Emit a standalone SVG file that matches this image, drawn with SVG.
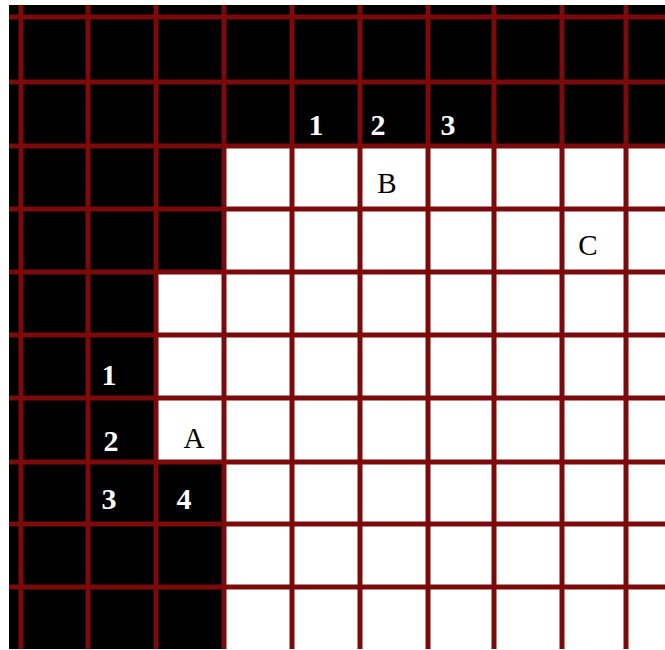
<svg xmlns="http://www.w3.org/2000/svg" width="665" height="650" viewBox="0 0 665 650">
<style>
.grid line{stroke:#7c0a0a;stroke-width:5}
.num{font-family:"Liberation Serif","Times New Roman",serif;font-weight:bold;font-size:30px;fill:#ffffff;text-anchor:middle}
.let{font-family:"Liberation Serif","Times New Roman",serif;font-size:29px;fill:#000000;text-anchor:middle}
</style>
<rect x="0" y="0" width="665" height="650" fill="#ffffff"/>
<rect id="board" x="9" y="5" width="656" height="644" fill="#000000"/>
<path id="open-area" d="M224 146H665V649H224V462H156V272H224Z" fill="#ffffff"/>
<g id="grid" class="grid">
<line x1="21" y1="5" x2="21" y2="649"/>
<line x1="88" y1="5" x2="88" y2="649"/>
<line x1="156" y1="5" x2="156" y2="649"/>
<line x1="224" y1="5" x2="224" y2="649"/>
<line x1="292" y1="5" x2="292" y2="649"/>
<line x1="360" y1="5" x2="360" y2="649"/>
<line x1="428" y1="5" x2="428" y2="649"/>
<line x1="494" y1="5" x2="494" y2="649"/>
<line x1="562" y1="5" x2="562" y2="649"/>
<line x1="626" y1="5" x2="626" y2="649"/>
<line x1="9" y1="17" x2="665" y2="17"/>
<line x1="9" y1="82" x2="665" y2="82"/>
<line x1="9" y1="146" x2="665" y2="146"/>
<line x1="9" y1="209" x2="665" y2="209"/>
<line x1="9" y1="272" x2="665" y2="272"/>
<line x1="9" y1="335" x2="665" y2="335"/>
<line x1="9" y1="398" x2="665" y2="398"/>
<line x1="9" y1="462" x2="665" y2="462"/>
<line x1="9" y1="524" x2="665" y2="524"/>
<line x1="9" y1="587" x2="665" y2="587"/>
</g>
<g id="labels">
<text class="num" x="316" y="135">1</text>
<text class="num" x="378" y="135">2</text>
<text class="num" x="448" y="135">3</text>
<text class="num" x="109" y="385">1</text>
<text class="num" x="111" y="451">2</text>
<text class="num" x="109" y="509">3</text>
<text class="num" x="184" y="509">4</text>
<text class="let" x="387" y="193">B</text>
<text class="let" x="588" y="255">C</text>
<text class="let" x="194" y="448">A</text>
</g>
</svg>
